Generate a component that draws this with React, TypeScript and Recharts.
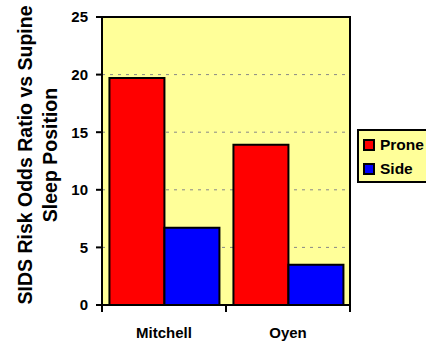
import React from 'react';
import { BarChart, Bar, XAxis, YAxis, CartesianGrid, Legend, ReferenceArea } from 'recharts';

const categories = ['Mitchell', 'Oyen'];
const proneValues = [19.7, 13.9];
const sideValues = [6.7, 3.5];
const yTicks = [0, 5, 10, 15, 20, 25];

const FONT = "Arial, 'Liberation Sans', sans-serif";
const PRONE = '#ff0000';
const SIDE = '#0000ff';
const PLOT_BG = '#ffff99';

const data = categories.map((name, i) => ({
  name,
  prone: proneValues[i],
  side: sideValues[i],
}));

// half the width of one category band (plot width 248 / 2 categories / 2)
const HALF_BAND = 62;

// tick y arrives 8px below the axis line (tickSize 6 + margin 2)
const CategoryTick = (props: any) => {
  const { x, y, payload } = props;
  const top = y - 8;
  return (
    <g>
      <line x1={x - HALF_BAND} y1={top} x2={x - HALF_BAND} y2={top + 7} stroke="#000" strokeWidth={2} />
      <line x1={x + HALF_BAND} y1={top} x2={x + HALF_BAND} y2={top + 7} stroke="#000" strokeWidth={2} />
      <text x={x} y={top + 33} textAnchor="middle" fontFamily={FONT} fontWeight="bold" fontSize={15} fill="#000">
        {payload.value}
      </text>
    </g>
  );
};

const YLabel = (props: any) => {
  const vb = props.viewBox || { x: 0, y: 17, width: 102, height: 288 };
  const cy = vb.y + vb.height / 2 - 6;
  const x1 = vb.x + 32;
  const x2 = vb.x + 57;
  const style = { fontFamily: FONT, fontWeight: 'bold' as const, fontSize: 19.5, fill: '#000' };
  return (
    <g>
      <text x={x1} y={cy} transform={`rotate(-90 ${x1} ${cy})`} textAnchor="middle" {...style}>
        SIDS Risk Odds Ratio vs Supine
      </text>
      <text x={x2} y={cy} transform={`rotate(-90 ${x2} ${cy})`} textAnchor="middle" {...style}>
        Sleep  Position
      </text>
    </g>
  );
};

const LegendBox = () => {
  const items = [
    { label: 'Prone', color: PRONE },
    { label: 'Side', color: SIDE },
  ];
  return (
    <div
      style={{
        width: 67,
        height: 48,
        background: PLOT_BG,
        border: '2px solid #000',
        borderRight: 'none',
        boxSizing: 'content-box',
        paddingTop: 2,
      }}
    >
      {items.map((it) => (
        <div key={it.label} style={{ display: 'flex', alignItems: 'center', height: 24, paddingLeft: 4 }}>
          <span
            style={{
              display: 'inline-block',
              width: 8,
              height: 8,
              background: it.color,
              border: '2px solid #000',
              marginRight: 5,
            }}
          />
          <span style={{ fontFamily: FONT, fontWeight: 'bold', fontSize: 15.5, color: '#000' }}>{it.label}</span>
        </div>
      ))}
    </div>
  );
};

export default function App() {
  return (
    <div style={{ position: 'absolute', left: 0, top: 0, background: '#fff' }}>
      <BarChart
        width={426}
        height={347}
        data={data}
        margin={{ top: 17, right: 76, left: 0, bottom: 0 }}
        barCategoryGap="6%"
        barGap={0}
      >
        <CartesianGrid fill={PLOT_BG} vertical={false} stroke="#888" strokeDasharray="3 5" />
        <XAxis
          dataKey="name"
          axisLine={{ stroke: '#000', strokeWidth: 2 }}
          tickLine={false}
          tick={<CategoryTick />}
          interval={0}
          height={42}
        />
        <YAxis
          width={102}
          domain={[0, 25]}
          ticks={yTicks}
          interval={0}
          axisLine={{ stroke: '#000', strokeWidth: 2 }}
          tickLine={{ stroke: '#000', strokeWidth: 2 }}
          tickSize={6}
          tickMargin={8}
          tick={{ fontFamily: FONT, fontWeight: 'bold', fontSize: 15, fill: '#000' }}
          label={{ content: <YLabel /> }}
        />
        <Bar dataKey="prone" name="Prone" fill={PRONE} stroke="#000" strokeWidth={2} isAnimationActive={false} />
        <Bar dataKey="side" name="Side" fill={SIDE} stroke="#000" strokeWidth={2} isAnimationActive={false} />
        <ReferenceArea y1={0} y2={25} fill="none" stroke="#000" strokeWidth={2} ifOverflow="visible" />
        <Legend
          content={<LegendBox />}
          layout="vertical"
          verticalAlign="middle"
          align="center"
          wrapperStyle={{ position: 'absolute', left: 357, top: 129, width: 69 }}
        />
      </BarChart>
    </div>
  );
}
